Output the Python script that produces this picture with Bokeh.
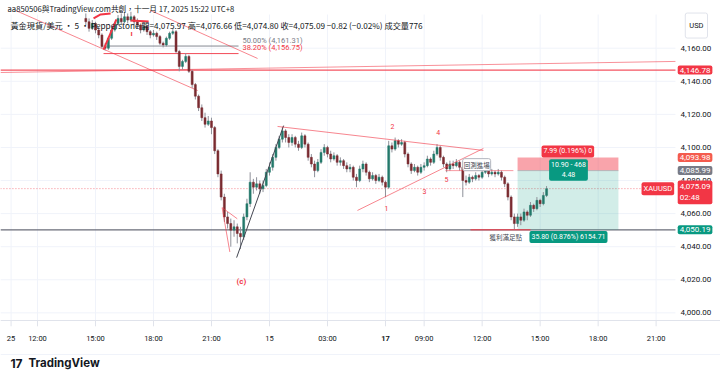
from bokeh.plotting import figure
from bokeh.models import Range1d, Label, ColumnDataSource
from bokeh.embed import file_html
from bokeh.resources import INLINE

# ---------------- data (10-minute bars, XAUUSD) ----------------
opens = [4178,4176,4172,4175,4171,4168,4161,4160,4166,4171,
         4175,4178,4176,4179,4177,4179,4176,4174,4171,4173,
         4170,4168,4169,4167,4163,4162,4166,4169,4170,4158,
         4149,4152,4155,4146,4138,4131,4124,4118,4114,4116,
         4112,4098,4084,4070,4058,4054,4050,4052,4048,4046,
         4058,4066,4079,4076,4078,4075,4077,4085,4088,4094,
         4100,4105,4110,4106,4103,4106,4102,4100,4107,4102,
         4094,4090,4086,4091,4097,4100,4096,4093,4095,4091,
         4092,4089,4087,4088,4082,4080,4087,4090,4085,4081,
         4083,4080,4082,4079,4076,4101,4099,4104,4102,4103,
         4096,4090,4086,4088,4085,4088,4089,4093,4091,4096,
         4100,4094,4090,4087,4090,4089,4091,4088,4080,4079,
         4082,4081,4083,4082,4085,4086,4084,4085,4084,4085,
         4082,4078,4070,4058,4054,4058,4056,4061,4059,4065,
         4063,4068,4066,4071]
highs = [4181,4178,4177,4176,4173,4169,4163,4167,4172,4176,
         4180,4181,4182,4181,4182,4180,4178,4175,4175,4174,
         4171,4171,4170,4168,4164,4167,4170,4171.5,4171,4159,
         4153,4157,4156,4147,4139,4132,4126,4121,4119,4118,
         4113,4099,4086,4072,4061,4057,4056,4054,4052,4060,
         4069,4085,4081,4082,4080,4080,4087,4091,4096,4102,
         4107,4112.5,4111,4108,4108,4107,4104,4109,4108,4103,
         4096,4092,4093,4099,4102,4101,4098,4097,4096,4094,
         4093,4091,4090,4089,4084,4089,4092,4091,4086,4085,
         4084,4084,4083,4080,4104,4103,4106,4105,4105,4104,
         4097,4091,4090,4089,4090,4091,4095,4094,4098,4102,
         4101,4095,4091,4092,4092,4093,4092,4089,4083,4084,
         4083,4085,4084,4087,4087.5,4087,4087,4086,4087,4086,
         4083,4079,4071,4060,4060,4060,4063,4062,4067,4066,
         4070,4069,4073,4076.66]
lows = [4174,4170,4171,4169,4166,4160,4158.6,4159,4165,4170,
        4174,4174,4175,4175,4176,4174,4172,4169,4170,4168,
        4166,4167,4165,4162,4160.5,4161,4165,4168,4157,4146,
        4147,4151,4145,4136,4129,4122,4116,4112,4113,4108,
        4096,4082,4068,4055,4051,4040,4046,4042,4038.5,4044,
        4056,4064,4072,4074,4072,4073,4076,4083,4086,4092,
        4099,4103,4103,4100,4101,4100,4098,4099,4100,4092,
        4088,4082,4085,4090,4095,4094,4091,4092,4089,4089,
        4087,4085,4085,4080,4076,4079,4085,4083,4079,4080,
        4078,4079,4077,4070,4075,4097,4098,4100,4101,4094,
        4088,4084,4085,4083,4084,4086,4088,4089,4090,4095,
        4092,4088,4085,4086,4087,4088,4086,4070,4077,4078,
        4079,4080,4080,4081,4084,4082,4083,4082,4083,4080,
        4076,4068,4056,4050.5,4052,4053,4055,4056,4058,4061,
        4062,4064,4065,4070]
closes = [4176,4172,4175,4171,4168,4161,4160,4166,4171,4175,
          4178,4176,4179,4177,4179,4176,4174,4171,4173,4170,
          4168,4169,4167,4163,4162,4166,4169,4170,4158,4149,
          4152,4155,4146,4138,4131,4124,4118,4114,4116,4112,
          4098,4084,4070,4058,4054,4050,4052,4048,4046,4058,
          4066,4079,4076,4078,4075,4077,4085,4088,4094,4100,
          4105,4110,4106,4103,4106,4102,4100,4107,4102,4094,
          4090,4086,4091,4097,4100,4096,4093,4095,4091,4092,
          4089,4087,4088,4082,4080,4087,4090,4085,4081,4083,
          4080,4082,4079,4076,4101,4099,4104,4102,4103,4096,
          4090,4086,4088,4085,4088,4089,4093,4091,4096,4100,
          4094,4090,4087,4090,4089,4091,4088,4080,4079,4082,
          4081,4083,4082,4085,4086,4084,4085,4084,4085,4082,
          4078,4070,4058,4054,4058,4056,4061,4059,4065,4063,
          4068,4066,4071,4075.09]

x_tick_pos = [-23.2, -15, 3, 21, 39, 57, 75, 93, 105, 123, 141, 159, 177]
x_tick_labels = ["25", "12:00", "15:00", "18:00", "21:00", "15", "03:00", "17",
                 "09:00", "12:00", "15:00", "18:00", "21:00"]
price_ticks = [4000, 4020, 4040, 4060, 4080, 4100, 4120, 4140, 4160]
price_tick_labels = ["4,000.00", "4,020.00", "4,040.00", "4,060.00", "4,080.00",
                     "4,100.00", "4,120.00", "4,140.00", "4,160.00"]

fib_prices = [4161.31, 4156.75]
fib_texts = ["50.00% (4,161.31)", "38.20% (4,156.75)"]
resist_level = 4146.78
entry_price = 4085.99
stop_price = 4093.98
target_price = 4050.19
last_price = 4075.09

# drawing anchor points (bar index, price)
lower_channel = ([-21.8, 34.7], [4182.8, 4134.4])
upper_channel = ([20.1, 53.3], [4182.8, 4153.8])
sloped_line = ([-26.5, 183.0], [4145.3, 4152.0])
trend_up = ([46.8, 61.4], [4033.4, 4113.2])
wedge_a = ([42.3, 44.7], [4063.6, 4036.8])
wedge_b = ([42.3, 47.0], [4063.6, 4056.9])
tri_upper = ([59.5, 123.4], [4112.7, 4098.2])
tri_lower = ([84.3, 123.4], [4061.9, 4099.4])
wave_up = ([5.5, 9.5], [4159.2, 4177.4])
wave_arc = ([2.4, 4.6, 7.7], [4178.0, 4180.4, 4181.0])
wave_top = ([13.9, 19.5], [4176.7, 4176.1])
wave_labels = ["1", "2", "3", "4", "5"]
wave_x = [93.3, 95.2, 105.1, 109.4, 111.9]
wave_y = [4063.0, 4112.7, 4073.4, 4109.0, 4080.6]

# pane extents (data units)
PX0, PX1 = -26.5, 183.0
PY0, PY1 = 3995.37, 4180.37
XR0, XR1 = -26.48, 196.98
YR0, YR1 = 3959.1, 4188.84

# ---------------- figure: whole canvas is the frame ----------------
W, H = 720, 380
p = figure(width=W, height=H, output_backend="svg", toolbar_location=None,
           x_range=Range1d(XR0, XR1), y_range=Range1d(YR0, YR1),
           x_axis_location=None, y_axis_location=None,
           min_border_left=0, min_border_right=0, min_border_top=0, min_border_bottom=0)
p.outline_line_color = None
p.background_fill_color = "white"
p.grid.visible = False

CJK = "Noto Sans CJK TC"
NUM = "Roboto"

# grid
p.segment(x0=[PX0] * len(price_ticks), x1=[PX1] * len(price_ticks), y0=price_ticks, y1=price_ticks,
          line_color="#F0F3FA", line_width=1)
p.segment(x0=x_tick_pos, x1=x_tick_pos, y0=[PY0] * len(x_tick_pos), y1=[PY1] * len(x_tick_pos),
          line_color="#F0F3FA", line_width=1)
# pane bottom border and time-axis ticks
p.line([PX0, XR1], [PY0, PY0], line_color="#E0E3EB", line_width=1)
p.segment(x0=x_tick_pos, x1=x_tick_pos, y0=[PY0] * len(x_tick_pos), y1=[PY0 - 3.5] * len(x_tick_pos),
          line_color="#E0E3EB", line_width=1)
p.line([PX0, XR1], [3974.8, 3974.8], line_color="#F0F3FA", line_width=1)

# ---------------- horizontal levels ----------------
p.line([PX0, PX1], [resist_level, resist_level], line_color="#F23645", line_width=1.2, line_alpha=0.85)
p.line([PX0, PX1], [target_price, target_price], line_color="#6A6D78", line_width=1.2)
p.line([PX0, PX1], [last_price, last_price], line_color="#F23645", line_width=1, line_alpha=0.6, line_dash="1 2")
p.line(sloped_line[0], sloped_line[1], line_color="#F23645", line_alpha=0.55, line_width=1)

for fp, col in zip(fib_prices, ["#787B86", "#F23645"]):
    p.line([5.5, 47.4], [fp, fp], line_color=col, line_width=1, line_alpha=0.9)

p.line(lower_channel[0], lower_channel[1], line_color="#F23645", line_alpha=0.6, line_width=1)
p.line(upper_channel[0], upper_channel[1], line_color="#F23645", line_alpha=0.6, line_width=1)

# position tool (short)
p.quad(left=[134.0], right=[165.3], bottom=[entry_price], top=[stop_price],
       fill_color="#F23645", fill_alpha=0.45, line_color=None)
p.quad(left=[134.0], right=[165.3], bottom=[target_price], top=[entry_price],
       fill_color="#089981", fill_alpha=0.18, line_color=None)
p.line([134.0, 165.3], [entry_price, entry_price], line_color="#9BA0AA", line_width=1, line_alpha=0.6)

# ---------------- candles ----------------
idx = list(range(len(closes)))
up_col, dn_col = "#23796A", "#7A2B30"
cols = [up_col if c >= o else dn_col for o, c in zip(opens, closes)]
tops = [max(o, c) for o, c in zip(opens, closes)]
bots = [min(o, c) for o, c in zip(opens, closes)]
src = ColumnDataSource(dict(x=idx, h=highs, l=lows, t=tops, b=bots, col=cols))
p.segment(x0="x", y0="h", x1="x", y1="l", source=src, line_color="#8E9099", line_width=1)
p.vbar(x="x", width=0.62, top="t", bottom="b", source=src, fill_color="col", line_color="col", line_width=0.5)

# ---------------- drawings over candles ----------------
p.line(trend_up[0], trend_up[1], line_color="#434651", line_width=1)
p.line(wedge_a[0], wedge_a[1], line_color="#F23645", line_alpha=0.6, line_width=1)
p.line(wedge_b[0], wedge_b[1], line_color="#F23645", line_alpha=0.6, line_width=1)
p.line(tri_upper[0], tri_upper[1], line_color="#F23645", line_alpha=0.6, line_width=1)
p.line(tri_lower[0], tri_lower[1], line_color="#F23645", line_alpha=0.6, line_width=1)
p.line([111.6, 132.7], [entry_price, entry_price], line_color="#F23645", line_alpha=0.5, line_width=1)
p.line([119.4, 138.0], [target_price, target_price], line_color="#F23645", line_alpha=0.7, line_width=1.5)
p.line(wave_up[0], wave_up[1], line_color="#F23645", line_width=2)
p.line(wave_arc[0], wave_arc[1], line_color="#F23645", line_width=2)
p.line(wave_top[0], wave_top[1], line_color="#F23645", line_width=2)


def lab(x, y, text, size="7.5px", color="#131722", font=NUM, align="left", baseline="middle",
        bg=None, pad=0, style="normal", border=None):
    l = Label(x=x, y=y, text=text, text_font=font, text_font_size=size, text_color=color,
              text_align=align, text_baseline=baseline, text_font_style=style,
              background_fill_color=bg, padding=pad, border_line_color=border)
    if bg is not None:
        l.border_radius = 2
    p.add_layout(l)
    return l


# axis labels
for t, s in zip(price_ticks, price_tick_labels):
    lab(184.6, t, s, size="8px", color="#131722")
for t, s in zip(x_tick_pos, x_tick_labels):
    lab(t, 3984.3, s, size="7.5px", color="#131722", align="center",
        style="bold" if s == "17" else "normal")

lab(14.2, 4168.6, "ı", size="8px", color="#F23645", align="center", style="bold")
for t, s, col in zip(fib_prices, fib_texts, ["#787B86", "#F23645"]):
    lab(48.6, t + 3.6, s, size="7.5px", color=col)
lab(48.3, 4018.9, "(c)", size="8px", color="#F23645", align="center", style="bold")
for s, xx, yy in zip(wave_labels, wave_x, wave_y):
    lab(xx, yy, s, size="7px", color="#F23645", align="center")
lab(121.3, 4089.6, "回測進場", size="6.5px", color="#434651", font=CJK, align="center",
    bg="white", pad=1, border="#B2B5BE")
lab(130.3, 4046.0, "獲利滿足點", size="6.5px", color="#434651", font=CJK, align="center")

# position labels
lab(149.6, 4097.6, "7.99 (0.196%) 0", size="7px", color="white", align="center", bg="#F23645", pad=2)
lab(149.8, 4086.4, "10.90 - 468\n4.48", size="7px", color="white", align="center", bg="#089981", pad=2)
lab(149.8, 4045.85, "35.80 (0.876%) 6154.71", size="7px", color="white", align="center", bg="#089981", pad=2)

# right price scale badges
RX = 183.7
lab(RX, resist_level, "4,146.78", size="8px", color="white", bg="#F23645", pad=2)
lab(RX, stop_price, "4,093.98", size="8px", color="white", bg="#F45B4E", pad=2)
lab(RX, entry_price, "4,085.99", size="8px", color="white", bg="#787B86", pad=2)
lab(RX, last_price - 2.2, "4,075.09\n02:48", size="8px", color="white", bg="#F23645", pad=2)
lab(RX, target_price, "4,050.19", size="8px", color="white", bg="#089981", pad=2)
lab(182.6, last_price, "XAUUSD", size="7.5px", color="white", bg="#F23645", pad=2, align="right")
usd = lab(189.5, 4173.7, "USD", size="7.5px", color="#131722", align="center",
          bg="white", border="#E0E3EB")
usd.padding = (4, 8)

# header texts
lab(-24.3, 4184.0, "aa850506與TradingView.com共創，十一月 17, 2025 15:22 UTC+8", size="7.7px",
    color="#131722", font=CJK)
lab(-23.4, 4174.3, "黃金現貨/美元 · 5 · Pepperstone   開=4,075.97  高=4,076.66  低=4,074.80  收=4,075.09  −0.82 (−0.02%)  成交量776",
    size="8.2px", color="#131722", font=CJK)

# logo
lab(-23.4, 3969.4, "17", size="12px", color="#131722", font="Inter", style="bold")
lab(-17.8, 3969.4, "TradingView", size="11.5px", color="#131722", font="Inter", style="bold")

open("out.html", "w").write(file_html(p, INLINE))
